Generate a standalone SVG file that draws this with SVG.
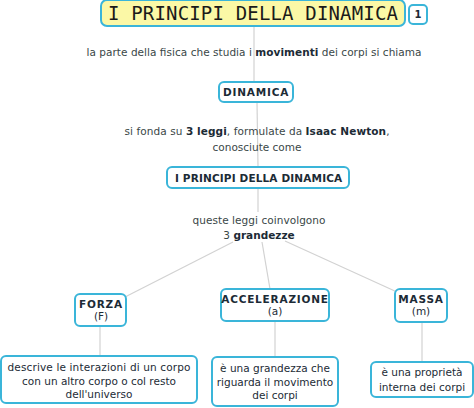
<svg xmlns="http://www.w3.org/2000/svg" width="474" height="408" viewBox="0 0 474 408">
<style>
.box{fill:#fff;stroke:#3ab5d9;stroke-width:2}
.title{fill:#fbf8a6;stroke:#3ab5d9;stroke-width:2}
.c{stroke:#d2d2d2;stroke-width:1.2;fill:none}
text{font-family:"DejaVu Sans","Liberation Sans",sans-serif;text-anchor:middle}
.n{font-size:10.5px;font-weight:bold;fill:#1c2b36;letter-spacing:0.8px}
.s{font-size:10.5px;fill:#1c2b36}
.l{font-size:10.5px;fill:#3a4747}
.b{font-weight:bold;fill:#1c2b36}
.t{font-family:"DejaVu Sans Mono","Liberation Mono",monospace;font-size:19px;fill:#1a1a1a}
</style>
<rect width="474" height="408" fill="#fff"/>
<g id="connectors">
<line class="c" x1="254" y1="27" x2="254" y2="82"/>
<line class="c" x1="257" y1="102" x2="258" y2="167"/>
<line class="c" x1="258" y1="188" x2="258" y2="212"/>
<line class="c" x1="233" y1="242" x2="125" y2="297"/>
<line class="c" x1="262" y1="242" x2="270" y2="289"/>
<line class="c" x1="285" y1="241" x2="397" y2="292"/>
<line class="c" x1="100" y1="326" x2="100" y2="356"/>
<line class="c" x1="275" y1="321" x2="275" y2="357"/>
<line class="c" x1="422" y1="322" x2="422" y2="362"/>
</g>
<g id="title">
<rect class="title" x="101" y="0" width="304" height="26" rx="6"/>
<text class="t" x="253" y="20" textLength="290" lengthAdjust="spacing">I PRINCIPI DELLA DINAMICA</text>
</g>
<g id="badge">
<rect class="box" x="409" y="5" width="18" height="19" rx="4"/>
<text x="418" y="18" style="font-size:10px;font-weight:bold;fill:#1c2b36">1</text>
</g>
<g id="label1">
<text class="l" x="254" y="56" textLength="335" lengthAdjust="spacing">la parte della fisica che studia i <tspan class="b">movimenti</tspan> dei corpi si chiama</text>
</g>
<g id="dinamica">
<rect class="box" x="219" y="82" width="74" height="20" rx="5"/>
<text class="n" x="256" y="96">DINAMICA</text>
</g>
<g id="label2">
<text class="l" x="257" y="135" textLength="265" lengthAdjust="spacing">si fonda su <tspan class="b">3 leggi</tspan>, formulate da <tspan class="b">Isaac Newton</tspan>,</text>
<text class="l" x="257" y="151">conosciute come</text>
</g>
<g id="principi">
<rect class="box" x="167" y="167" width="182" height="21" rx="5"/>
<text class="n" x="259" y="182" textLength="168" lengthAdjust="spacing">I PRINCIPI DELLA DINAMICA</text>
</g>
<g id="label3">
<text class="l" x="259" y="224" textLength="133" lengthAdjust="spacing">queste leggi coinvolgono</text>
<text class="l" x="259" y="239">3 <tspan class="b">grandezze</tspan></text>
</g>
<g id="forza">
<rect class="box" x="75" y="294" width="51" height="32" rx="5"/>
<text class="n" x="101" y="308">FORZA</text>
<text class="s" x="101" y="320">(F)</text>
</g>
<g id="accelerazione">
<rect class="box" x="221" y="289" width="108" height="32" rx="5"/>
<text class="n" x="275" y="303">ACCELERAZIONE</text>
<text class="s" x="275" y="315">(a)</text>
</g>
<g id="massa">
<rect class="box" x="395" y="289" width="52" height="33" rx="5"/>
<text class="n" x="421" y="303">MASSA</text>
<text class="s" x="421" y="315">(m)</text>
</g>
<g id="desc-forza">
<rect class="box" x="1" y="356" width="196" height="47" rx="5"/>
<text class="s" x="99" y="371" textLength="183" lengthAdjust="spacing">descrive le interazioni di un corpo</text>
<text class="s" x="99" y="385">con un altro corpo o col resto</text>
<text class="s" x="99" y="398">dell'universo</text>
</g>
<g id="desc-accelerazione">
<rect class="box" x="212" y="357" width="126" height="49" rx="5"/>
<text class="s" x="275" y="372">è una grandezza che</text>
<text class="s" x="275" y="386">riguarda il movimento</text>
<text class="s" x="275" y="399">dei corpi</text>
</g>
<g id="desc-massa">
<rect class="box" x="371" y="362" width="102" height="35" rx="5"/>
<text class="s" x="422" y="376">è una proprietà</text>
<text class="s" x="422" y="391">interna dei corpi</text>
</g>
</svg>
